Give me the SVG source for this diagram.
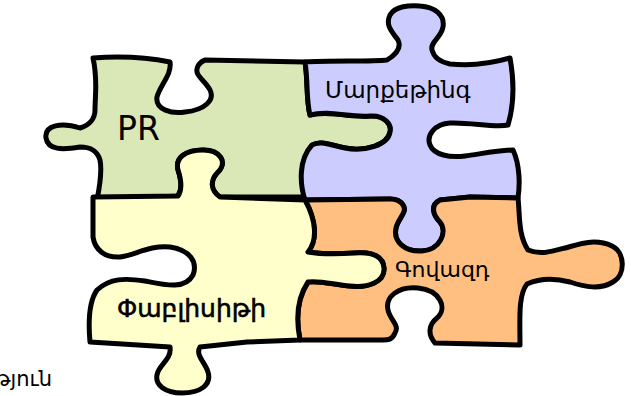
<svg xmlns="http://www.w3.org/2000/svg" width="631" height="396" viewBox="0 0 631 396">
  <style>
    .piece { stroke: #000; stroke-width: 5; stroke-linejoin: round; stroke-linecap: round; }
    .label { font-family: "DejaVu Sans", "Noto Sans", sans-serif; fill: #000; }
  </style>
  <rect width="631" height="396" fill="#fff"/>

  <g id="pr">
    <path class="piece" fill="#d9e8b6" d="M93,58 C120,56 150,58 170,62 C172,75 160,85 157,97 C155,110 172,114 185,112 C205,110 215,100 210,90 C205,80 193,75 198,66 C200,62 203,61 205,60 L305,62 C308,80 306,100 310,115 C330,110 350,118 370,116 C385,115 392,125 390,132 C388,145 365,152 345,148 C330,145 320,140 312,145 C300,160 300,180 305,197 L220,197 C210,190 210,180 218,172 C228,162 220,150 203,150 C185,150 175,158 178,170 C182,182 182,190 178,196 L97,200 C100,185 102,170 100,160 C97,150 90,147 80,147 C62,150 48,150 46,138 C44,125 62,122 80,128 C90,125 95,118 95,110 C95,95 98,80 93,58 Z"/>
    <text class="label" x="117" y="140" font-family="Liberation Sans, Arial, sans-serif" font-size="33">PR</text>
  </g>

  <g id="marketing">
    <path class="piece" fill="#ccccff" d="M305,62 C330,60 370,62 387,60 C395,55 402,48 398,40 C392,32 385,25 390,15 C395,6 410,5 420,6 C435,7 445,15 443,27 C441,38 430,42 432,50 C434,58 440,62 450,64 C470,66 490,64 510,58 C514,80 514,105 508,125 C495,128 470,122 450,123 C435,124 426,135 430,145 C434,155 450,158 465,156 C480,154 500,150 513,150 C520,165 520,185 518,198 L470,197 L440,200 C430,205 433,215 440,222 C448,232 440,250 422,251 C405,252 393,242 396,228 C398,218 408,212 403,205 C400,200 395,199 390,199 L305,200 C300,185 298,160 312,145 C320,140 330,145 345,148 C365,152 388,145 390,132 C392,125 385,115 370,116 C350,118 330,110 310,115 C306,100 308,80 305,62 Z"/>
    <text class="label" x="325" y="98" font-size="23">Մարքեթինգ</text>
  </g>

  <g id="advertising">
    <path class="piece" fill="#ffbf80" d="M305,200 L390,199 C395,199 400,200 403,205 C408,212 398,218 396,228 C393,242 405,252 422,251 C440,250 448,232 440,222 C433,215 430,205 440,200 L470,197 L518,198 C520,215 518,235 528,250 C540,255 550,252 565,248 C580,244 595,238 612,246 C625,252 626,275 613,282 C600,290 585,287 570,282 C555,278 540,278 527,284 C518,295 520,320 520,345 L435,343 C428,335 428,325 437,318 C448,308 440,290 418,288 C398,286 385,297 388,310 C390,320 400,325 395,333 C392,340 388,340 383,340 L300,340 C296,320 296,300 308,282 C320,280 335,285 350,286 C368,288 385,282 384,268 C383,255 370,252 355,253 C340,254 325,255 308,252 C318,240 316,220 305,200 Z"/>
    <text class="label" x="395" y="277" font-size="22">Գովազդ</text>
  </g>

  <g id="publicity">
    <path class="piece" fill="#ffffcc" d="M93,197 L178,196 C182,190 182,182 178,170 C175,158 185,150 203,150 C220,150 228,162 218,172 C210,180 210,190 220,197 L305,200 C316,220 318,240 308,252 C325,255 340,254 355,253 C370,252 383,255 384,268 C385,282 368,288 350,286 C335,285 320,280 308,282 C296,300 296,320 300,340 L247,342 L200,347 C195,355 205,362 208,372 C212,385 200,393 182,393 C165,393 155,385 157,375 C158,365 172,360 170,347 L90,342 C88,320 90,300 97,290 C110,278 125,278 145,281 C165,285 185,290 193,275 C198,262 190,250 170,247 C150,245 135,255 120,257 C105,258 95,250 93,237 L93,197 Z"/>
    <text class="label" x="117" y="317" font-size="25" stroke="#000" stroke-width="0.6">Փաբլիսիթի</text>
  </g>

  <text class="label" x="52" y="386" font-size="21" text-anchor="end" fill="#222">ություն</text>
</svg>
